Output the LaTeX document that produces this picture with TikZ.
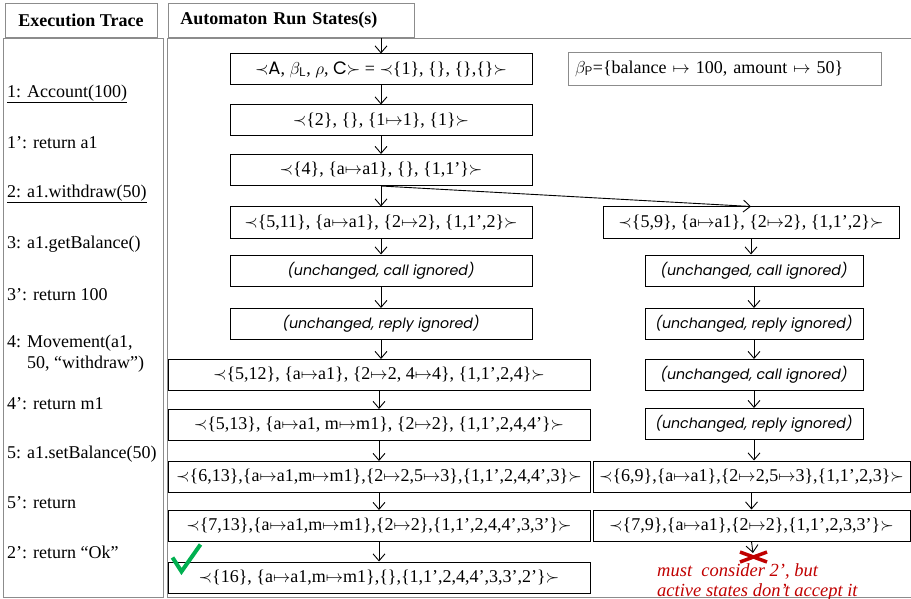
\documentclass[tikz,border=0pt]{standalone}
\usepackage{fontspec}
\setmainfont{Liberation Serif}
\newfontfamily\gothic{Poppins}
\usepackage{xcolor}
\usetikzlibrary{arrows.meta,positioning}

\definecolor{failred}{RGB}{192,0,0}
\definecolor{okgreen}{RGB}{0,176,80}
\newcommand{\sopen}{$\prec$}
\newcommand{\sclose}{$\succ$}
\newcommand{\mto}{$\mapsto$}

\begin{document}
\begin{tikzpicture}[x=1pt, y=-1pt, every node/.style={inner sep=0pt},
  frame/.style={draw=black!45, line width=0.9pt},
  state/.style={draw, line width=1pt, minimum height=31pt, font=\fontsize{18}{21}\selectfont},
  unchanged/.style={state, font=\gothic\itshape\fontsize{14.2}{17}\selectfont},
  trace/.style={anchor=west, align=left, font=\fontsize{18}{21}\selectfont},
  link/.style={->, line width=0.9pt},
  >={Straight Barb[length=7pt,width=12pt]}]
\useasboundingbox (0,0) rectangle (911,599);

% frames and headers
\node[frame, minimum width=152, minimum height=34, font=\bfseries\fontsize{18}{21}\selectfont] (tracehead) at (81,20) {Execution Trace};
\node[frame, anchor=west, minimum height=34, text width=222, inner xsep=12pt, align=left, font=\bfseries\fontsize{18}{21}\selectfont] (statehead) at (168,20) {Automaton Run States(s)};
\draw[frame] (3,38) rectangle (163,597);
\draw[frame] (911,38) -- (167,38) -- (167,597) -- (911,597);

% execution trace
\node[trace] (t1) at (7,94) {\underline{1: Account(100)}};
\node[trace] (t1r) at (7,143) {1’: return a1};
\node[trace] (t2) at (7,194) {\underline{2: a1.withdraw(50)}};
\node[trace] (t3) at (7,244) {3: a1.getBalance()};
\node[trace] (t3r) at (7,295) {3’: return 100};
\node[trace] (t4) at (7,354) {4: Movement(a1,\\\hphantom{4: }50, “withdraw”)};
\node[trace] (t4r) at (7,404) {4’: return m1};
\node[trace] (t5) at (7,454) {5: a1.setBalance(50)};
\node[trace] (t5r) at (7,503) {5’: return};
\node[trace] (t2r) at (7,552) {2’: return “Ok”};

% left run
\coordinate (top) at (381,38);
\node[state, minimum width=302] (s0) at (381,69.5) {\sopen{\gothic A}, $\beta_{\mathsf{L}}$, $\rho$, {\gothic C}\sclose{} = \sopen\{1\}, \{\}, \{\},\{\}\sclose};
\node[state, minimum width=302] (s1) at (381,120.5) {\sopen\{2\}, \{\}, \{1\mto 1\}, \{1\}\sclose};
\node[state, minimum width=302] (s2) at (381,170) {\sopen\{4\}, \{a\mto a1\}, \{\}, \{1,1’\}\sclose};
\node[state, minimum width=302] (s3) at (381,222.5) {\sopen\{5,11\}, \{a\mto a1\}, \{2\mto 2\}, \{1,1’,2\}\sclose};
\node[unchanged, minimum width=302] (s4) at (381,270.5) {(unchanged, call ignored)};
\node[unchanged, minimum width=302] (s5) at (381,324) {(unchanged, reply ignored)};
\node[state, minimum width=422] (s6) at (379,375) {\sopen\{5,12\}, \{a\mto a1\}, \{2\mto 2, 4\mto 4\}, \{1,1’,2,4\}\sclose};
\node[state, minimum width=422] (s7) at (379,425) {\sopen\{5,13\}, \{a\mto a1, m\mto m1\}, \{2\mto 2\}, \{1,1’,2,4,4’\}\sclose};
\node[state, minimum width=422] (s8) at (379,477) {\sopen\{6,13\},\{a\mto a1,m\mto m1\},\{2\mto 2,5\mto 3\},\{1,1’,2,4,4’,3\}\sclose};
\node[state, minimum width=422] (s9) at (379,526) {\sopen\{7,13\},\{a\mto a1,m\mto m1\},\{2\mto 2\},\{1,1’,2,4,4’,3,3’\}\sclose};
\node[state, minimum width=422] (s10) at (379,577.5) {\sopen\{16\}, \{a\mto a1,m\mto m1\},\{\},\{1,1’,2,4,4’,3,3’,2’\}\sclose};

% right run
\node[frame, text width=299, inner xsep=7pt, minimum height=33, align=left, font=\fontsize{18}{21}\selectfont] (beta) at (724.5,68.5) {$\beta_{\mathsf{P}}$=\{balance \mto{} 100, amount \mto{} 50\}};
\node[state, minimum width=296] (r0) at (751,222.5) {\sopen\{5,9\}, \{a\mto a1\}, \{2\mto 2\}, \{1,1’,2\}\sclose};
\node[unchanged, minimum width=218] (r1) at (754,270.5) {(unchanged, call ignored)};
\node[unchanged, minimum width=218] (r2) at (754,324) {(unchanged, reply ignored)};
\node[unchanged, minimum width=218] (r3) at (754,375) {(unchanged, call ignored)};
\node[unchanged, minimum width=218] (r4) at (754,424) {(unchanged, reply ignored)};
\node[state, minimum width=317] (r5) at (751.5,476.5) {\sopen\{6,9\},\{a\mto a1\},\{2\mto 2,5\mto 3\},\{1,1’,2,3\}\sclose};
\node[state, minimum width=317] (r6) at (751.5,525.5) {\sopen\{7,9\},\{a\mto a1\},\{2\mto 2\},\{1,1’,2,3,3’\}\sclose};
\coordinate (fail) at (753,553);
\node[anchor=north west, align=left, text=failred, font=\itshape\fontsize{18.5}{20}\selectfont] (why) at (657,563) {must\ \ consider 2’, but\\active states don’t accept it};

% arrows
\draw[link] (top) -- (s0.north);
\foreach \a/\b in {s0/s1, s1/s2, s2/s3, s3/s4, s4/s5, s5/s6, s6/s7, s7/s8, s8/s9, s9/s10, r0/r1, r1/r2, r2/r3, r3/r4, r4/r5, r5/r6}
  \draw[link] (\a.south) -- (\a.south |- \b.north);
\draw[link] (s2.south) -- (r0.north);
\draw[link] (r6.south) -- (fail);

% marks
\draw[failred, line width=3.5pt] ([shift={(-13,-1)}]fail) -- ([shift={(14,9)}]fail);
\draw[failred, line width=3.5pt] ([shift={(-13,9)}]fail) -- ([shift={(14,-1)}]fail);
\draw[okgreen, line width=4pt] ([shift={(5,-4)}]s10.north west) -- ([shift={(14,10)}]s10.north west) -- ([shift={(33,-17)}]s10.north west);
\end{tikzpicture}
\end{document}
